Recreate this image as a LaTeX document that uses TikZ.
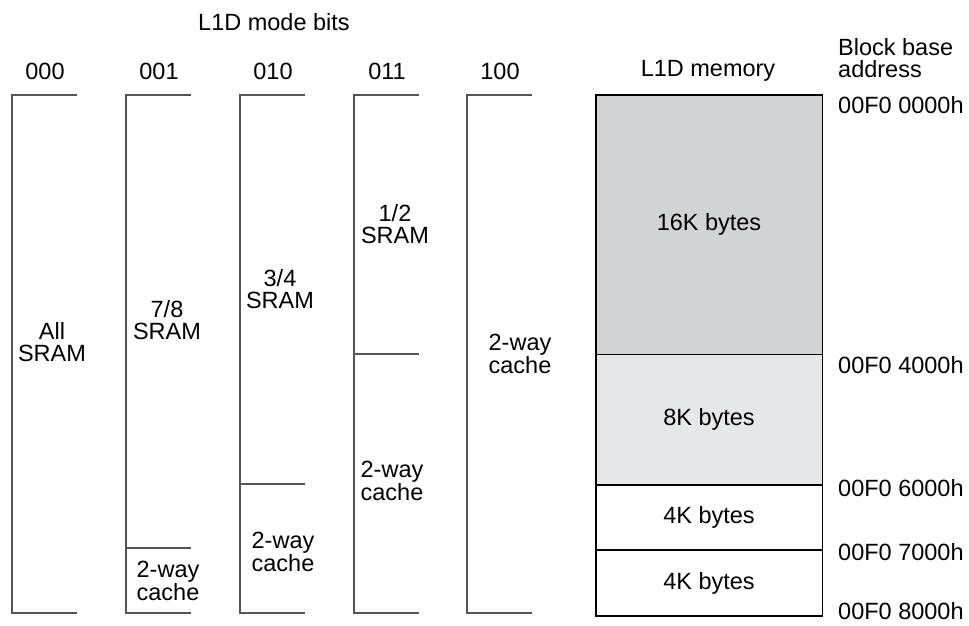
\documentclass[tikz,border=0pt]{standalone}
\usepackage{fontspec}
\setmainfont{Liberation Sans}
\usetikzlibrary{positioning}

\definecolor{gray16}{RGB}{209,211,212}
\definecolor{gray8}{RGB}{230,231,232}
\definecolor{bracketgray}{RGB}{85,85,85}

\tikzset{
  lbl/.style={inner sep=0pt, align=center, font=\fontsize{23.5}{22.5}\selectfont},
  addr/.style={lbl, anchor=west},
  bracket/.style={draw=bracketgray, line width=1.6pt},
  memblock/.style={lbl, draw=black, line width=0.8pt, minimum width=226, inner sep=0pt}
}

\begin{document}
\begin{tikzpicture}[x=1pt, y=-1pt]
    \useasboundingbox (0,0) rectangle (969,625);

    % Title and column headers
    \node[lbl] (title) at (274, 22) {L1D mode bits};
    \foreach \bits/\x in {000/12, 001/126, 010/240, 011/354, 100/467} {
      \node[lbl] (hdr\bits) at (\x+33, 71) {\bits};
    }
    \node[lbl] (hdrmem) at (708, 71) {L1D memory};
    \node[lbl, anchor=west, align=left] (hdraddr) at (838, 58) {Block base\\address};

    % Mode columns (brackets)
    \foreach \x in {12, 126, 240, 354, 467} {
      \draw[bracket] (\x+65, 95) -- (\x, 95) -- (\x, 613) -- (\x+65, 613);
    }

    % SRAM / cache split lines
    \foreach \x/\y in {126/548, 240/484, 354/354} {
      \draw[bracket] (\x, \y) -- (\x+65, \y);
    }

    % Column labels
    \node[lbl] (sram000) at (52, 342) {All\\SRAM};
    \node[lbl] (sram001) at (167, 320) {7/8\\SRAM};
    \node[lbl] (cache001) at (168, 581) {2-way\\cache};
    \node[lbl] (sram010) at (280, 289) {3/4\\SRAM};
    \node[lbl] (cache010) at (283, 552) {2-way\\cache};
    \node[lbl] (sram011) at (395, 224) {1/2\\SRAM};
    \node[lbl] (cache011) at (392, 481) {2-way\\cache};
    \node[lbl] (cache100) at (520, 354) {2-way\\cache};

    % L1D memory blocks
    \node[memblock, fill=gray16, minimum height=259] (blk16) at (709, 224.5) {16K bytes};
    \node[memblock, fill=gray8, minimum height=129.5, below=0pt of blk16] (blk8) {8K bytes};
    \node[memblock, fill=white, minimum height=64.75, below=0pt of blk8] (blk4a) {4K bytes};
    \node[memblock, fill=white, minimum height=64.75, below=0pt of blk4a] (blk4b) {4K bytes};
    \draw[black, line width=1.8pt] (blk16.north west) rectangle (blk4b.south east);

    % Block base addresses
    \node[addr] (addr0) at (838, 105) {00F0 0000h};
    \node[addr] (addr4) at (838, 365) {00F0 4000h};
    \node[addr] (addr6) at (838, 488) {00F0 6000h};
    \node[addr] (addr7) at (838, 552) {00F0 7000h};
    \node[addr] (addr8) at (838, 611) {00F0 8000h};
\end{tikzpicture}
\end{document}
